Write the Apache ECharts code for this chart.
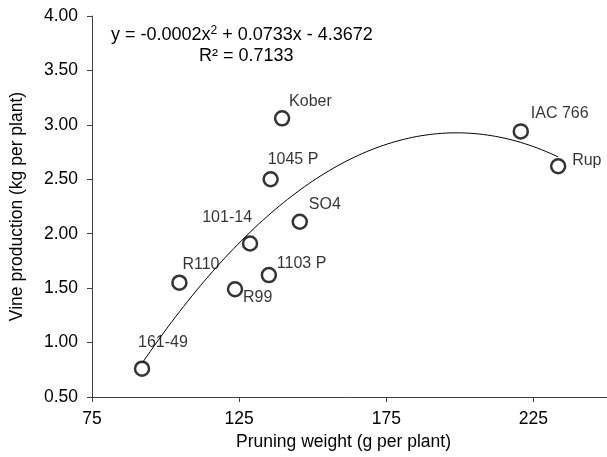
<!DOCTYPE html>
<html><head><meta charset="utf-8">
<script src="https://cdn.jsdelivr.net/npm/echarts@6/dist/echarts.min.js"></script>
<style>html,body{margin:0;padding:0;background:#fff}#c{width:607px;height:457px}</style>
</head><body><div id="c"></div>
<script>
const names = ['161-49','R110','R99','101-14','1103 P','1045 P','Kober','SO4','IAC 766','Rup'];
const pruning = [92.0, 104.7, 123.6, 128.7, 135.1, 135.7, 139.6, 145.6, 220.7, 233.4];
const production = [0.76, 1.55, 1.49, 1.91, 1.62, 2.50, 3.06, 2.11, 2.94, 2.62];
const xTicks = [75, 125, 175, 225];
const yTicks = [0.5, 1.0, 1.5, 2.0, 2.5, 3.0, 3.5, 4.0];

// label placement (style only)
const labelStyle = {
  '161-49': {align:'left', offset:[-4,-26]},
  'R110': {align:'left', offset:[3,-18]},
  'R99': {align:'left', offset:[8,8]},
  '101-14': {align:'right', offset:[2,-26]},
  '1103 P': {align:'left', offset:[8,-11]},
  '1045 P': {align:'left', offset:[-3,-20]},
  'Kober': {align:'left', offset:[7,-17]},
  'SO4': {align:'left', offset:[9,-17]},
  'IAC 766': {align:'left', offset:[10,-18]},
  'Rup': {align:'left', offset:[14,-6]}
};

// least-squares quadratic fit of the data (trendline)
function polyfit2(xs, ys){
  let S=[0,0,0,0,0], T=[0,0,0];
  for(let i=0;i<xs.length;i++){
    let p=1;
    for(let k=0;k<5;k++){S[k]+=p; if(k<3) T[k]+=p*ys[i]; p*=xs[i];}
  }
  const A=[[S[0],S[1],S[2],T[0]],[S[1],S[2],S[3],T[1]],[S[2],S[3],S[4],T[2]]];
  for(let i=0;i<3;i++){
    for(let j=i+1;j<3;j++){const f=A[j][i]/A[i][i]; for(let k=i;k<4;k++) A[j][k]-=f*A[i][k];}
  }
  const c=[0,0,0];
  for(let i=2;i>=0;i--){let s=A[i][3]; for(let k=i+1;k<3;k++) s-=A[i][k]*c[k]; c[i]=s/A[i][i];}
  return c;
}
const coef = polyfit2(pruning, production);
const xmin = Math.min(...pruning), xmax = Math.max(...pruning);
const trend = [];
for(let i=0;i<=100;i++){const x=xmin+(xmax-xmin)*i/100; trend.push([x, coef[0]+coef[1]*x+coef[2]*x*x]);}

const font = 'Liberation Sans, Arial, sans-serif';
const chart = echarts.init(document.getElementById('c'));
chart.setOption({
  animation:false,
  grid:{left:92, right:-3, top:16, bottom:60},
  xAxis:{type:'value', min:75, max:250, interval:50,
    axisLine:{lineStyle:{color:'#404040', width:1}},
    axisTick:{show:true, length:5, lineStyle:{color:'#404040'}},
    splitLine:{show:false},
    axisLabel:{color:'#000', fontSize:17.5, fontFamily:font, margin:13, showMaxLabel:false,
      formatter:v=>xTicks.includes(v)?String(v):''},
    name:'Pruning weight (g per plant)', nameLocation:'middle', nameGap:35,
    nameTextStyle:{color:'#000', fontSize:17.5, fontFamily:font, padding:[0,0,0,-12]}
  },
  yAxis:{type:'value', min:0.5, max:4.0, interval:0.5,
    axisLine:{show:true, lineStyle:{color:'#404040', width:1}},
    axisTick:{show:true, length:5, lineStyle:{color:'#404040'}},
    splitLine:{show:false},
    axisLabel:{color:'#000', fontSize:17.5, fontFamily:font, margin:14,
      formatter:v=>yTicks.some(t=>Math.abs(t-v)<1e-9)?v.toFixed(2):''},
    name:'Vine production (kg per plant)', nameLocation:'middle', nameGap:66,
    nameTextStyle:{color:'#000', fontSize:17.5, fontFamily:font}
  },
  graphic:[
    {type:'text', left:111, top:25, style:{
      text:'{a|y = -0.0002x}{s|2}{a| + 0.0733x - 4.3672}',
      rich:{a:{fontSize:18, fontFamily:font, fill:'#000'}, s:{fontSize:12, fontFamily:font, fill:'#000', verticalAlign:'top', padding:[0,0,8,0]}}
    }},
    {type:'text', left:199, top:47, style:{text:'R² = 0.7133', fontSize:18, fontFamily:font, fill:'#000'}}
  ],
  series:[
    {type:'line', data:trend, showSymbol:false, smooth:false, silent:true,
      lineStyle:{color:'#000', width:1}, z:1},
    {type:'scatter', symbol:'circle', symbolSize:14, z:3,
      itemStyle:{color:'#fff', borderColor:'#000', borderWidth:2.5},
      data:names.map((n,i)=>({name:n, value:[pruning[i], production[i]],
        label:{show:true, position:'inside', verticalAlign:'middle', align:labelStyle[n].align, offset:labelStyle[n].offset,
          formatter:n, color:'#000', fontSize:16, fontFamily:font}}))
    }
  ]
});
</script></body></html>
